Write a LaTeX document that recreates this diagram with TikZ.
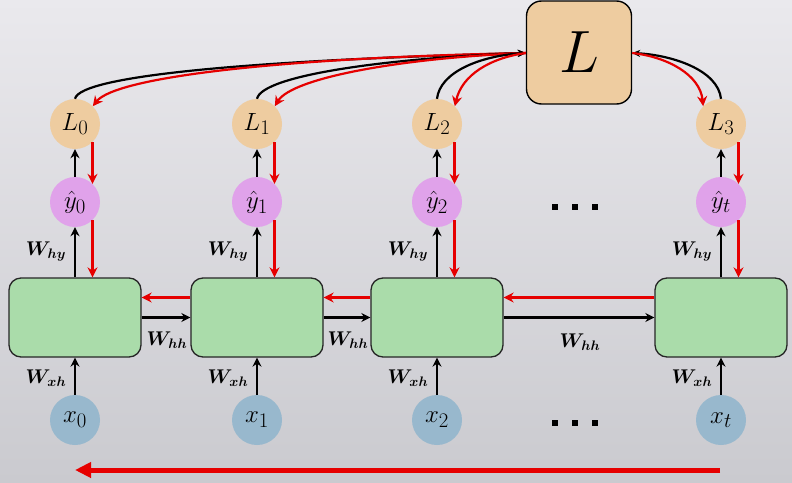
\documentclass[tikz,border=0pt]{standalone}
\usepackage{graphicx}
\usepackage{amsmath,bm}
\usetikzlibrary{arrows.meta,calc}
\definecolor{bgtop}{RGB}{234,233,237}
\definecolor{bgmid}{RGB}{227,226,230}
\definecolor{bgbot}{RGB}{202,202,207}
\definecolor{tan}{RGB}{238,204,160}
\definecolor{violet}{RGB}{224,162,234}
\definecolor{greenbox}{RGB}{170,220,170}
\definecolor{xblue}{RGB}{152,184,205}
\definecolor{redarr}{RGB}{230,0,0}
\tikzset{
  lossbig/.style={draw=black, line width=1.4pt, fill=tan, rounded corners=15pt,
    minimum width=105pt, minimum height=103pt, font=\Huge},
  circ/.style={circle, minimum size=50pt, inner sep=0pt, font=\Huge},
  lossc/.style={circ, fill=tan},
  yhatc/.style={circ, fill=violet},
  xc/.style={circ, fill=xblue},
  hbox/.style={draw=black!85, line width=1.3pt, fill=greenbox, rounded corners=12pt,
    minimum width=132pt, minimum height=79pt},
  wlab/.style={font=\LARGE, inner sep=0pt},
  fwd/.style={draw=black, line width=2.5pt, -{Stealth[length=9pt,width=9pt]}},
  bwd/.style={draw=redarr, line width=2.5pt, -{Stealth[length=10pt,width=10pt]}},
  dotsn/.style={inner sep=0pt},
}
\newcommand{\mydots}{\rule{6pt}{6pt}\hspace{14pt}\rule{6pt}{6pt}\hspace{14pt}\rule{6pt}{6pt}}
\newcommand{\wl}[1]{\scalebox{1.15}{$\bm{W}_{\bm{#1}}$}}
\begin{document}
\begin{tikzpicture}[x=1pt,y=-1pt]
\shade[top color=bgtop, middle color=bgmid, bottom color=bgbot] (0,0) rectangle (792,482);
\useasboundingbox (0,0) rectangle (792,482);

% loss box
\node[lossbig] (L) at (579,52.5) {\scalebox{2.4}{$L$}};

% columns
\foreach \i/\xx/\sub in {0/75/0, 1/257/1, 2/437/2, 3/721/t} {
  \node[yhatc] (y\i) at (\xx,202) {$\hat{y}_{\sub}$};
  \node[xc] (x\i) at (\xx,420) {$x_{\sub}$};
  \node[hbox] (h\i) at (\xx,317.5) {};
}
\node[lossc] (L0) at (75,124) {$L_0$};
\node[lossc] (L1) at (257,124) {$L_1$};
\node[lossc] (L2) at (437,124) {$L_2$};
\node[lossc] (L3) at (721,124) {$L_3$};

% vertical connections
\foreach \i in {0,1,2,3} {
  \draw[fwd] (x\i.north) -- (h\i.south);
  \draw[fwd] (h\i.north) -- (y\i.south);
  \draw[fwd] (y\i.north) -- (L\i.south);
  \draw[bwd] (L\i.-46) -- (y\i.46);
  \draw[bwd] (y\i.-46) -- (y\i.-46 |- h\i.north);
}

% labels W_hy and W_xh
\foreach \i/\xx in {0/75, 1/257, 2/437, 3/721} {
  \node[wlab] (why\i) at (\xx-29,252) {\wl{hy}};
  \node[wlab] (wxh\i) at (\xx-29,378) {\wl{xh}};
}

% horizontal connections
\foreach \a/\b in {0/1, 1/2, 2/3} {
  \draw[fwd] (h\a.east) -- (h\b.west);
  \draw[bwd] ([yshift=20pt]h\b.west) -- ([yshift=20pt]h\a.east);
}
\node[wlab] (whh0) at (167,340) {\wl{hh}};
\node[wlab] (whh1) at (348,340) {\wl{hh}};
\node[wlab] (whh2) at (580,342) {\wl{hh}};

% curves between L and L_i
\coordinate (Lw) at ($(L.west)+(0,0.5)$);
\coordinate (Le) at ($(L.east)+(0,0.5)$);
\draw[fwd, line width=2.2pt, -{Stealth[length=8pt,width=7pt]}] (L0.north) .. controls (80,75) and (260,60) .. (Lw);
\draw[bwd, line width=2.2pt] (Lw) .. controls (270,58) and (115,78) .. (L0.45);
\draw[fwd, line width=2.2pt, -{Stealth[length=8pt,width=7pt]}] (L1.north) .. controls (262,75) and (390,58) .. (Lw);
\draw[bwd, line width=2.2pt] (Lw) .. controls (400,58) and (292,78) .. (L1.45);
\draw[fwd, line width=2.2pt, -{Stealth[length=8pt,width=7pt]}] (L2.north) .. controls (440,72) and (480,56) .. (Lw);
\draw[bwd, line width=2.2pt] (Lw) .. controls (490,58) and (462,75) .. (L2.45);
\draw[fwd, line width=2.2pt, -{Stealth[length=8pt,width=7pt]}] (L3.north) .. controls (718,70) and (672,55) .. (Le);
\draw[bwd, line width=2.2pt] (Le) .. controls (668,57) and (700,75) .. (L3.135);

% dots
\node[dotsn] (dots1) at (575,207) {\mydots};
\node[dotsn] (dots2) at (575,423) {\mydots};

% bottom backprop arrow
\coordinate (bstart) at (720,470);
\coordinate (bend) at (75,470);
\draw[draw=redarr, line width=5pt, -{Triangle[length=16pt,width=15pt]}] (bstart) -- (bend);
\end{tikzpicture}
\end{document}
